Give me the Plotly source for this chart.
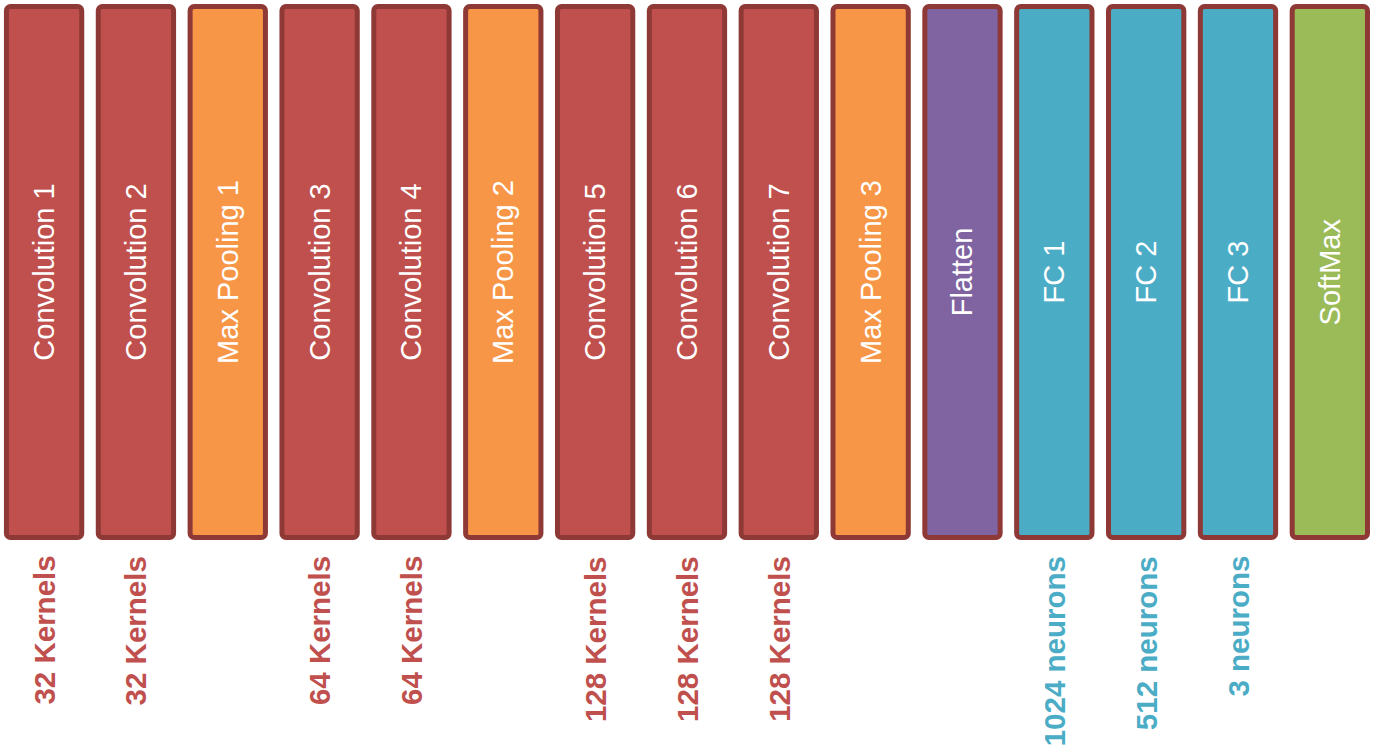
import plotly.graph_objects as go

layers = ["Convolution 1", "Convolution 2", "Max Pooling 1", "Convolution 3", "Convolution 4",
          "Max Pooling 2", "Convolution 5", "Convolution 6", "Convolution 7", "Max Pooling 3",
          "Flatten", "FC 1", "FC 2", "FC 3", "SoftMax"]
layer_types = ["conv", "conv", "pool", "conv", "conv", "pool", "conv", "conv", "conv", "pool",
               "flat", "fc", "fc", "fc", "soft"]
sizes = ["32 Kernels", "32 Kernels", "", "64 Kernels", "64 Kernels", "", "128 Kernels",
         "128 Kernels", "128 Kernels", "", "", "1024 neurons", "512 neurons", "3 neurons", ""]

fill = {"conv": "#C0504D", "pool": "#F79646", "flat": "#8064A2", "fc": "#4BACC6", "soft": "#9BBB59"}
label_col = {"conv": "#C0504D", "fc": "#4BACC6"}

BOX_TOP, BOX_BOTTOM = 6.5, 537.5
LABEL_TOP = 554

fig = go.Figure()
fig.add_trace(go.Bar(
    x=layers,
    y=[BOX_BOTTOM - BOX_TOP] * len(layers),
    base=[BOX_TOP] * len(layers),
    width=0.82,
    marker=dict(color=[fill[t] for t in layer_types],
                line=dict(color="#8E3936", width=5),
                cornerradius=4),
    text=layers,
    textposition="inside",
    insidetextanchor="middle",
    textangle=-90,
    textfont=dict(family="Liberation Sans, Arial", size=29, color="white"),
    hoverinfo="skip",
))

for name, t, s in zip(layers, layer_types, sizes):
    if s:
        fig.add_annotation(x=name, y=LABEL_TOP, text="<b>%s</b>" % s, textangle=-90,
                           xanchor="center", yanchor="top", showarrow=False,
                           font=dict(family="Liberation Sans, Arial", size=29.5, color=label_col[t]))

fig.update_layout(
    width=1373, height=745,
    margin=dict(l=0, r=0, t=0, b=0),
    paper_bgcolor="white", plot_bgcolor="white",
    showlegend=False,
    hovermode=False,
    xaxis=dict(range=[-0.48, 14.47], visible=False, type="category", fixedrange=True),
    yaxis=dict(range=[745, 0], visible=False, fixedrange=True),
)
fig.write_html("out.html", config={"displayModeBar": False, "staticPlot": True},
               post_script="document.body.style.margin='0px';")
